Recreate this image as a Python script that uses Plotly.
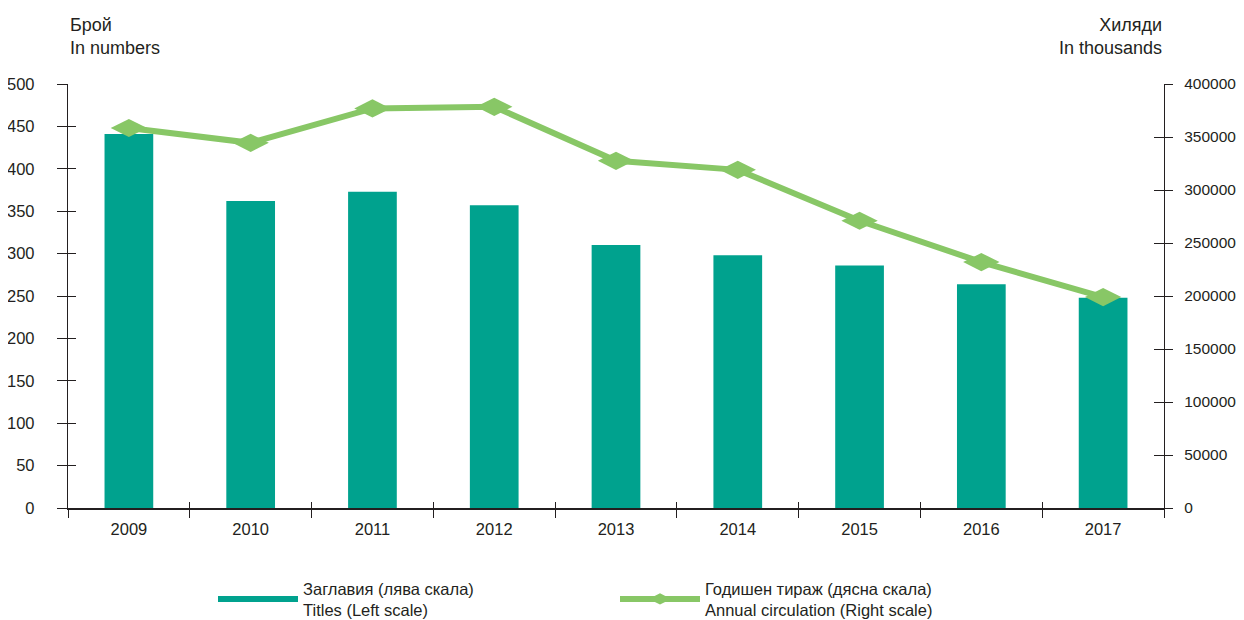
import plotly.graph_objects as go

years = ["2009", "2010", "2011", "2012", "2013", "2014", "2015", "2016", "2017"]
titles = [441, 362, 373, 357, 310, 298, 286, 264, 248]
circulation = [358500, 344500, 377000, 378500, 327500, 319000, 271000, 232000, 199000]

left_ticks = [0, 50, 100, 150, 200, 250, 300, 350, 400, 450, 500]
right_ticks = [0, 50000, 100000, 150000, 200000, 250000, 300000, 350000, 400000]

bar_name = "Заглавия (лява скала)<br>Titles (Left scale)"
line_name = "Годишен тираж (дясна скала)<br>Annual circulation (Right scale)"

TEAL = "#00A28E"
GREEN = "#88C766"
AX = "#231F20"
FONT = "Liberation Sans, Arial, sans-serif"

fig = go.Figure()
fig.add_trace(go.Bar(x=years, y=titles, marker=dict(color=TEAL, line=dict(width=0)),
                     width=0.4, showlegend=False, yaxis="y"))
fig.add_trace(go.Scatter(x=[None], y=[None], mode="lines", name=bar_name,
                         line=dict(color=TEAL, width=6), yaxis="y"))
fig.add_trace(go.Scatter(x=years, y=circulation, mode="lines+markers", name=line_name,
                         line=dict(color=GREEN, width=6),
                         marker=dict(symbol="diamond-wide", size=26, color=GREEN),
                         yaxis="y2"))
# invisible traces so the overlay tick axes render
fig.add_trace(go.Scatter(x=[0], y=[0], xaxis="x2", yaxis="y3", mode="markers",
                         marker=dict(opacity=0), showlegend=False, hoverinfo="skip"))
fig.add_trace(go.Scatter(x=[0], y=[0], xaxis="x2", yaxis="y4", mode="markers",
                         marker=dict(opacity=0), showlegend=False, hoverinfo="skip"))

tickfont = dict(family=FONT, size=16.5, color=AX)

fig.update_layout(
    width=1236, height=612,
    margin=dict(l=60, r=80, t=76, b=112, autoexpand=False),
    plot_bgcolor="white", paper_bgcolor="white",
    font=dict(family=FONT, size=16.5, color=AX),
    xaxis=dict(type="category", range=[-0.5, 8.5], tickson="boundaries",
               ticks="outside", ticklen=8, tickwidth=1.3, tickcolor=AX,
               showline=True, linecolor=AX, linewidth=1.5, automargin=False,
               showgrid=False, zeroline=False, tickfont=tickfont, ticklabelstandoff=5),
    xaxis2=dict(overlaying="x", range=[-0.5, 8.5], anchor="y", automargin=False,
                tickvals=[-0.5, 0.5, 1.5, 2.5, 3.5, 4.5, 5.5, 6.5, 7.5, 8.5],
                ticks="inside", ticklen=6, tickwidth=1.3, tickcolor=AX,
                showticklabels=False, showgrid=False, zeroline=False, showline=False,
                side="bottom"),
    yaxis=dict(range=[0, 500], tickvals=left_ticks, ticks="outside", ticklen=10,
               tickwidth=1.3, tickcolor=AX, showline=True, linecolor=AX, linewidth=1.3,
               showgrid=False, zeroline=False, tickfont=tickfont, ticklabelstandoff=19,
               automargin=False),
    yaxis2=dict(range=[0, 400000], tickvals=right_ticks, overlaying="y", side="right",
                tickformat="d",
                ticks="outside", ticklen=8, tickwidth=1.3, tickcolor=AX,
                showline=True, linecolor=AX, linewidth=1.3, showgrid=False,
                zeroline=False, tickfont=dict(family=FONT, size=15.5, color=AX),
                ticklabelstandoff=8, anchor="x", automargin=False),
    yaxis3=dict(range=[0, 500], tickvals=left_ticks, overlaying="y", side="left",
                anchor="x", ticks="inside", ticklen=8, tickwidth=1.3, tickcolor=AX,
                automargin=False,
                showticklabels=False, showgrid=False, zeroline=False, showline=False),
    yaxis4=dict(range=[0, 400000], tickvals=right_ticks, overlaying="y", side="right",
                anchor="x", ticks="inside", ticklen=10, tickwidth=1.3, tickcolor=AX,
                automargin=False,
                showticklabels=False, showgrid=False, zeroline=False, showline=False),
    legend=dict(orientation="h", x=0.1323, y=-0.1486, xanchor="left", yanchor="top",
                font=dict(family=FONT, size=16.5, color=AX),
                entrywidth=307, entrywidthmode="pixels", itemwidth=80,
                bgcolor="rgba(0,0,0,0)"),
    annotations=[
        dict(text="Брой<br>In numbers", x=0, y=1, xref="paper", yref="paper",
             xanchor="left", yanchor="bottom", yshift=24, align="left", showarrow=False,
             font=dict(family=FONT, size=18, color=AX)),
        dict(text="Хиляди<br>In thousands", x=1, y=1, xref="paper", yref="paper",
             xanchor="right", yanchor="bottom", yshift=24, align="right", showarrow=False,
             font=dict(family=FONT, size=18, color=AX)),
    ],
)

fig.write_html("out.html")
